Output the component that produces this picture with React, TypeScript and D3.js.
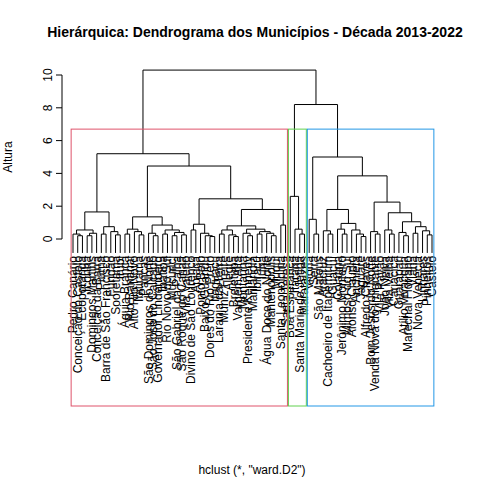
import React from 'react';
import * as d3 from 'd3';

type Node = string | [number, Node, Node];

const title = 'Hierárquica: Dendrograma dos Municípios - Década 2013-2022';
const yTicks = [0, 2, 4, 6, 8, 10];

const redA: Node = [1.65,
  [0.55, [0.3, 'Pedro Canário', [0.2, 'Conceição do Castelo', 'Ecoporanga']], [0.35, [0.2, 'Iconha', 'Domingos Martins'], 'Conceição da Barra']],
  [0.75, [0.3, 'Piúma', 'Barra de São Francisco'], [0.45, 'Fundão', [0.25, 'Sooretama', 'Irupi']]]];
const redB1: Node = [1.35,
  [0.6, [0.3, 'Águia Branca', 'Rio Bananal'], [0.45, 'Alto Rio Novo', [0.25, 'Ibitirama', 'Pancas']]],
  [0.85, [0.35, 'São Domingos do Norte', [0.2, 'São José do Calçado', 'Governador Lindenberg']],
    [0.55, [0.3, 'Ibatiba', 'Rio Novo do Sul'], [0.4, [0.2, 'Mucurici', 'São Gabriel da Palha'], [0.25, 'São Roque do Canaã', 'Vila Valério']]]]];
const redB2a: Node = [0.9, [0.55, 'Divino de São Lourenço', 'Apiacá'],
  [0.35, 'Ponto Belo', [0.2, 'Baixo Guandu', [0.15, 'Dores do Rio Preto', 'Itaguaçu']]]];
const redB2b: Node = [1.8,
  [0.8, [0.55, [0.3, 'Laranja da Terra', 'Muniz Freire'], [0.25, 'Alegre', [0.15, 'Brejetuba', 'Vargem Alta']]],
    [0.6, [0.35, 'Montanha', [0.2, 'Presidente Kennedy', 'Marilândia']],
      [0.45, [0.3, 'Ibiraçu', 'Iúna'], [0.35, 'Água Doce do Norte', [0.2, 'Mantenópolis', 'Muqui']]]]],
  [0.85, 'Santa Leopoldina', 'Santa Teresa']];
const green: Node = [2.6, 'Boa Esperança', [0.6, 'Itarana', [0.3, 'Santa Maria de Jetibá', 'Marataízes']]];
const blue18: Node = [1.8, [0.5, 'Aracruz', [0.3, 'Cachoeiro de Itapemirim', 'Guaçuí']],
  [0.95, [0.6, 'Colatina', [0.3, 'Jerônimo Monteiro', 'Mimoso do Sul']],
    [0.55, 'Afonso Cláudio', [0.3, 'Anchieta', [0.15, 'Jaguaré', 'Alfredo Chaves']]]]];
const blue225: Node = [2.25, [0.45, 'Bom Jesus do Norte', [0.3, 'Venda Nova do Imigrante', 'Vila Pavão']],
  [1.6, [0.55, 'João Neiva', [0.3, 'Vila Velha', 'Cariacica']],
    [1.05, [0.4, 'Guarapari', [0.2, 'Atílio Vivácqua', 'Marechal Floriano']], [0.75, [0.35, 'Viana', 'Nova Venécia'], [0.5, 'Linhares', [0.25, 'Pinheiros', 'Castelo']]]]]];
const red: Node = [5.2, redA, [4.45, redB1, [2.45, redB2a, redB2b]]];
const blue: Node = [5.0, [1.2, 'Vitória', [0.3, 'Serra', 'São Mateus']], [3.85, blue18, blue225]];
const tree: Node = [10.3, red, [8.2, green, blue]];

const clusters = [
  { node: red, color: '#DF536B' },
  { node: green, color: '#61D04F' },
  { node: blue, color: '#2297E6' },
];
const cutHeight = 6.7;

const leaves = (n: Node): string[] => (typeof n === 'string' ? [n] : [...leaves(n[1]), ...leaves(n[2])]);

export default function App() {
  const allLeaves = leaves(tree);
  const x = d3.scaleLinear().domain([0, allLeaves.length - 1]).range([73, 432]);
  const y = d3.scaleLinear().domain([0, 10]).range([239, 75]);
  const leafBottom = y(-0.85);
  const step = x(1) - x(0);
  const segs: string[] = [];
  let idx = 0;
  const walk = (n: Node): { px: number; py: number } => {
    if (typeof n === 'string') return { px: x(idx++), py: leafBottom };
    const a = walk(n[1]);
    const b = walk(n[2]);
    const hy = y(n[0]);
    segs.push(`M${a.px},${a.py}V${hy}H${b.px}V${b.py}`);
    return { px: (a.px + b.px) / 2, py: hy };
  };
  walk(tree);
  let start = 0;
  const rects = clusters.map(c => {
    const cnt = leaves(c.node).length;
    const r = { x0: x(start) - step / 2 + 0.5, x1: x(start + cnt - 1) + step / 2 - 0.5, color: c.color };
    start += cnt;
    return r;
  });
  const font = 'Liberation Sans, Arial, sans-serif';
  return (
    <svg width={480} height={480} style={{ position: 'absolute', left: 0, top: 0, background: '#fff' }} fontFamily={font}>
      <text x={255} y={37} textAnchor="middle" fontWeight="bold" fontSize={14}>{title}</text>
      <path d={segs.join('')} fill="none" stroke="#000" strokeWidth={1} />
      {allLeaves.map((l, i) => (
        <text key={i} transform={`translate(${x(i) + 4},${leafBottom + 3}) rotate(-90)`} textAnchor="end" fontSize={12}>{l}</text>
      ))}
      {rects.map((r, i) => (
        <rect key={i} x={r.x0} y={y(cutHeight)} width={r.x1 - r.x0} height={406 - y(cutHeight)} fill="none" stroke={r.color} />
      ))}
      <line x1={62} x2={62} y1={y(0)} y2={y(10)} stroke="#000" />
      {yTicks.map(t => (
        <g key={t} transform={`translate(62,${y(t)})`}>
          <line x2={-6} stroke="#000" />
          <text transform="translate(-10,0) rotate(-90)" textAnchor="middle" fontSize={12}>{t}</text>
        </g>
      ))}
      <text transform="translate(12,157) rotate(-90)" textAnchor="middle" fontSize={12}>Altura</text>
      <text x={252} y={474} textAnchor="middle" fontSize={12}>hclust (*, "ward.D2")</text>
    </svg>
  );
}
